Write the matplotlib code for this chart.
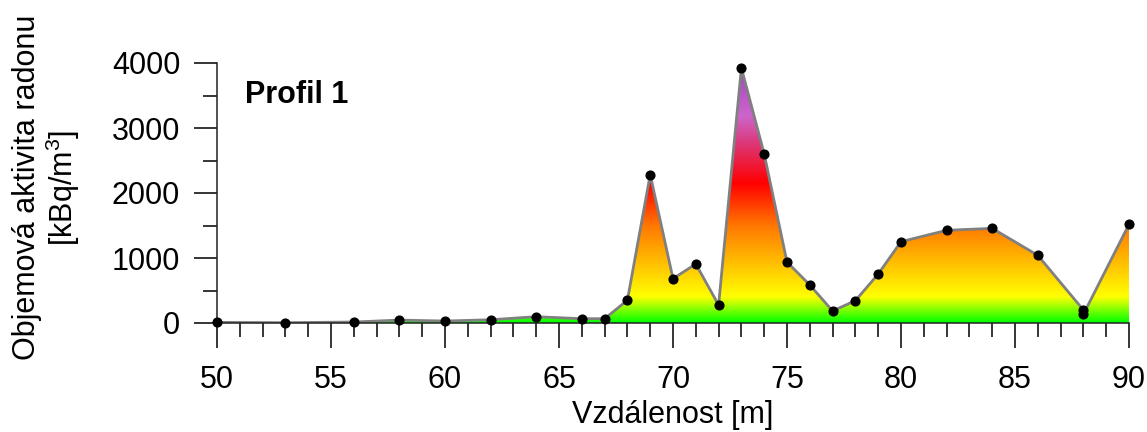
import matplotlib
matplotlib.use("Agg")
import matplotlib.pyplot as plt
import numpy as np
from matplotlib.colors import LinearSegmentedColormap
from matplotlib.ticker import MultipleLocator

plt.rcParams["font.family"] = ["Liberation Sans", "DejaVu Sans"]
plt.rcParams["mathtext.fontset"] = "custom"
plt.rcParams["mathtext.rm"] = "Liberation Sans"
plt.rcParams["mathtext.it"] = "Liberation Sans:italic"

# profile data
distance = [50, 53, 56, 58, 60, 62, 64, 66, 67, 68, 69, 70, 71, 72, 73, 74, 75,
            76, 77, 78, 79, 80, 82, 84, 86, 88, 88, 90]
activity = [10, 5, 15, 45, 30, 50, 97, 66, 66, 350, 2282, 682, 908, 277, 3923,
            2600, 938, 585, 185, 344, 754, 1251, 1426, 1456, 1041, 200, 134, 1518]

# colour ramp stops (value, colour)
ramp_values = [0, 80, 400, 1500, 2150, 2700, 3200, 4000]
ramp_colors = ["#00ff00", "#33ff00", "#ffff00", "#ff7700", "#ff0000",
               "#e0306a", "#cc66cc", "#a040c0"]

fig = plt.figure(figsize=(11.47, 4.32), dpi=100)
ax = fig.add_axes([217 / 1147, 1 - 323 / 432, 912 / 1147, 260 / 432])

cmap = LinearSegmentedColormap.from_list(
    "radon", [(v / 4000, c) for v, c in zip(ramp_values, ramp_colors)])
grad = np.linspace(0, 4000, 512).reshape(-1, 1)
poly = ax.fill_between(distance, activity, 0, color="none", lw=0)
img = ax.imshow(grad, cmap=cmap, vmin=0, vmax=4000, origin="lower",
                extent=[50, 90, 0, 4000], aspect="auto", zorder=1)
img.set_clip_path(poly.get_paths()[0], transform=ax.transData)

ax.plot(distance, activity, color="#808080", lw=2, zorder=2)
ax.plot(distance, activity, "o", color="black", ms=6.3, zorder=3, clip_on=False)

ax.set_xlim(50, 90)
ax.set_ylim(0, 4000)
for s in ["top", "right"]:
    ax.spines[s].set_visible(False)
for s in ["left", "bottom"]:
    ax.spines[s].set_linewidth(1.1)
    ax.spines[s].set_color("#222222")

ax.xaxis.set_major_locator(MultipleLocator(5))
ax.xaxis.set_minor_locator(MultipleLocator(1))
ax.yaxis.set_major_locator(MultipleLocator(1000))
ax.yaxis.set_minor_locator(MultipleLocator(500))
ax.tick_params(axis="x", which="major", length=18, width=1.1, pad=12, labelsize=22)
ax.tick_params(axis="x", which="minor", length=10, width=1.1)
ax.tick_params(axis="y", which="major", length=16.5, width=1.1, pad=10, labelsize=22)
ax.tick_params(axis="y", which="minor", length=10, width=1.1)

ax.set_xlabel("Vzdálenost [m]", fontsize=22, labelpad=4)
ax.set_ylabel("Objemová aktivita radonu\n[kBq/m$^3$]", fontsize=22, linespacing=1.05)
ax.yaxis.set_label_coords(-0.148, 0.52)

ax.text(0.031, 0.846, "Profil 1", transform=ax.transAxes, fontsize=22,
        fontweight="bold", va="baseline", ha="left")

fig.savefig("out.png", dpi=100)
